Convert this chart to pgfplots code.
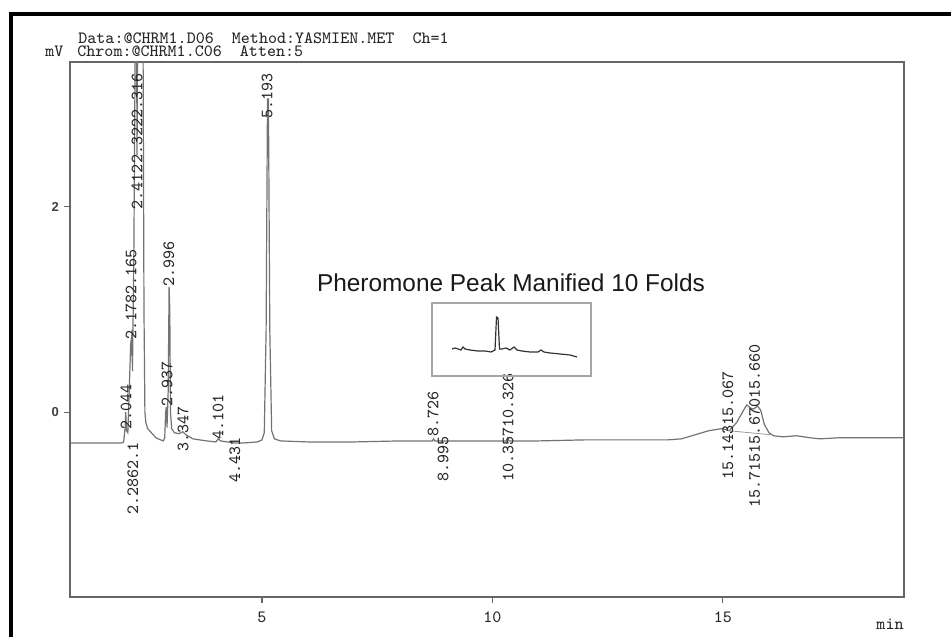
\documentclass[border=0pt]{standalone}
\usepackage{pgfplots}
\pgfplotsset{compat=1.18}
\usepackage{fontspec}
\setmainfont{Liberation Sans}
\newcommand{\mono}{\ttfamily\fontsize{8.6}{8.6}\selectfont}
\tikzset{lab/.style={rotate=90, font=\mono, text=black!85, inner sep=0pt}}
\begin{document}
\begin{tikzpicture}
\path[use as bounding box] (0,0) rectangle (475.5pt,318pt);
% outer frame (clipped by page at right and bottom)
\draw[line width=2pt, black] (5.25pt,-2pt) -- (5.25pt,311pt) -- (480pt,311pt);
% header
\node[anchor=base west, font=\mono, text=black!85, inner sep=0pt] at (39pt,296pt) {Data:@CHRM1.D06\ \ Method:YASMIEN.MET\ \ Ch=1};
\node[anchor=base west, font=\mono, text=black!85, inner sep=0pt] at (38.5pt,289.5pt) {Chrom:@CHRM1.C06\ \ Atten:5};
\node[anchor=base west, font=\mono, text=black!85, inner sep=0pt] at (22.5pt,289.5pt) {mV};
\node[anchor=center, font=\mono, text=black!85, inner sep=0pt] at (445pt,6pt) {min};

\begin{axis}[
  at={(35pt,19.5pt)}, anchor=south west,
  width=417pt, height=267.5pt, scale only axis,
  xmin=0.835, xmax=18.93, ymin=-1.80, ymax=3.41,
  axis line style={draw=black!60, line width=0.75pt},
  xtick={5,10,15}, ytick={0,2},
  xtick pos=bottom, ytick pos=left,
  tick align=outside, major tick length=3pt,
  tick style={draw=black!60, line width=0.6pt},
  x tick label style={font=\mono, text=black!85, yshift=-1pt},
  y tick label style={font=\fontsize{6.5}{7}\selectfont\bfseries, text=black!75, xshift=1pt},
  /pgf/number format/assume math mode=true,
  clip=true,
]
\addplot[black!55, line width=0.6pt] coordinates {
(0.835,-0.30) (1.95,-0.30) (2.00,-0.29) (2.03,-0.15) (2.045,0.0) (2.06,-0.18) (2.09,-0.20)
(2.12,0.2) (2.15,0.65) (2.165,0.72) (2.172,0.55) (2.178,0.80) (2.19,0.4) (2.22,1.5)
(2.25,3.6) (2.28,3.6) (2.29,2.5) (2.30,3.6) (2.42,3.6) (2.44,1.0) (2.46,0.0) (2.48,-0.1)
(2.52,-0.16) (2.6,-0.2) (2.7,-0.25) (2.8,-0.27) (2.86,-0.28) (2.89,-0.25) (2.91,0.0)
(2.925,0.05) (2.94,-0.15) (2.965,0.2) (2.985,1.22) (3.0,1.0) (3.015,0.0) (3.04,-0.16)
(3.1,-0.2) (3.2,-0.21) (3.28,-0.19) (3.35,-0.22) (3.5,-0.26) (3.8,-0.28) (4.0,-0.29)
(4.05,-0.26) (4.1,-0.28) (4.4,-0.30) (4.6,-0.30) (4.9,-0.29) (5.0,-0.27) (5.05,-0.20)
(5.09,0.8) (5.12,3.05) (5.14,3.05) (5.17,0.8) (5.21,-0.18) (5.27,-0.26) (5.4,-0.28)
(6.0,-0.29) (7.0,-0.29) (8.0,-0.28) (8.7,-0.28) (8.72,-0.26) (8.75,-0.28) (9.5,-0.28)
(10.3,-0.28) (10.33,-0.25) (10.36,-0.28) (11,-0.28) (12,-0.27) (13,-0.27) (13.8,-0.27)
(14.1,-0.26) (14.4,-0.22) (14.7,-0.18) (14.98,-0.16) (15.14,-0.18) (15.3,-0.1)
(15.45,0.02) (15.52,0.07) (15.6,0.04) (15.67,0.03) (15.75,0.06) (15.82,0.02)
(15.9,-0.12) (16.0,-0.2) (16.1,-0.23) (16.3,-0.24) (16.6,-0.23) (16.9,-0.25)
(17.1,-0.26) (17.5,-0.25) (18.93,-0.25)
};
\addplot[black!40, line width=0.4pt] coordinates {(15.1,-0.18) (16.05,-0.22)};
% peak labels
\node[lab, anchor=west] at (axis cs:2.05,-0.176) {2.044};
\node[lab, anchor=west] at (axis cs:2.16,0.70) {2.1782.165};
\node[lab, anchor=east] at (axis cs:2.29,3.30) {2.4122.3222.316};
\node[lab, anchor=west] at (axis cs:2.20,-1.0) {2.2862.1};
\node[lab, anchor=west] at (axis cs:2.94,0.05) {2.937};
\node[lab, anchor=west] at (axis cs:2.98,1.22) {2.996};
\node[lab, anchor=west] at (axis cs:3.29,-0.39) {3.347};
\node[lab, anchor=west] at (axis cs:4.05,-0.27) {4.101};
\node[lab, anchor=west] at (axis cs:4.41,-0.69) {4.431};
\node[lab, anchor=east] at (axis cs:5.11,3.30) {5.193};
\node[lab, anchor=west] at (axis cs:8.71,-0.24) {8.726};
\node[lab, anchor=west] at (axis cs:8.93,-0.68) {8.995};
\node[lab, anchor=west] at (axis cs:10.34,-0.68) {10.35710.326};
\node[lab, anchor=west] at (axis cs:15.11,-0.66) {15.14315.067};
\node[lab, anchor=west] at (axis cs:15.69,-0.93) {15.71515.67015.660};
\end{axis}

\node[anchor=base, font=\fontsize{12.2}{13}\selectfont, inner sep=0pt, text=black!90] at (255.5pt,172pt) {Pheromone Peak Manified 10 Folds};

\begin{axis}[
  at={(216pt,130pt)}, anchor=south west,
  width=79.5pt, height=36.5pt, scale only axis,
  xmin=432, xmax=591, ymin=260, ymax=333,
  axis line style={draw=black!35, line width=0.6pt},
  xtick=\empty, ytick=\empty,
]
\addplot[black!80, line width=0.6pt] coordinates {
(452,287) (455,288) (458,287) (461,286) (463,289) (465,287) (470,286) (478,285)
(485,285) (491,284) (495,286) (496.5,319) (498,318) (499.5,287) (502,287) (506,288)
(510,286) (514,289) (517,286) (522,285) (530,284) (538,284) (541,286) (544,284)
(550,283) (560,282) (570,281) (577,279)
};
\end{axis}
\end{tikzpicture}
\end{document}
